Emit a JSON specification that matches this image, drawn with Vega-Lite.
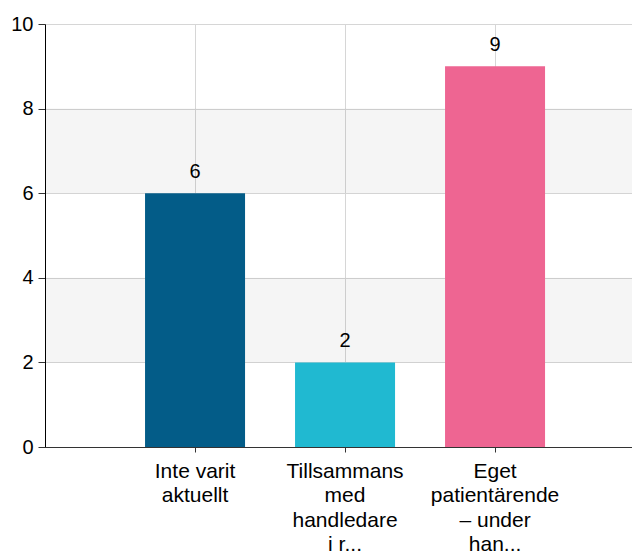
{
  "$schema": "https://vega.github.io/schema/vega-lite/v6.json",
  "autosize": "none",
  "width": 587,
  "height": 423,
  "padding": {"left": 45, "top": 24, "right": 0, "bottom": 107},
  "background": "white",
  "config": {
    "view": {"stroke": null},
    "font": "Liberation Sans"
  },
  "datasets": {
    "bars": [
      {"kategori": "Inte varit aktuellt", "antal": 6},
      {"kategori": "Tillsammans med handledare i r...", "antal": 2},
      {"kategori": "Eget patientärende – under han...", "antal": 9}
    ],
    "bands": [
      {"from": 2, "to": 4},
      {"from": 6, "to": 8}
    ]
  },
  "layer": [
    {
      "data": {"name": "bands"},
      "mark": {"type": "rect", "color": "#000", "opacity": 0.04},
      "encoding": {
        "y": {
          "field": "from",
          "type": "quantitative",
          "scale": {"domain": [0, 10]},
          "axis": {
            "title": null,
            "values": [0, 2, 4, 6, 8, 10],
            "labelFontSize": 20,
            "labelColor": "#000",
            "labelFont": "Liberation Sans",
            "labelPadding": 5,
            "tickSize": 7,
            "tickColor": "#333",
            "domainColor": "#000",
            "gridColor": "#d6d6d6"
          }
        },
        "y2": {"field": "to"}
      }
    },
    {
      "data": {"name": "bars"},
      "mark": {"type": "bar"},
      "encoding": {
        "x": {
          "field": "kategori",
          "type": "nominal",
          "sort": null,
          "scale": {"paddingInner": 0.3333, "paddingOuter": 0.6233, "align": 0.535},
          "axis": {
            "title": null,
            "labelAngle": 0,
            "labelFontSize": 21,
            "labelColor": "#000",
            "labelFont": "Liberation Sans",
            "labelLineHeight": 24.5,
            "labelPadding": 8,
            "labelLimit": 0,
            "labelExpr": "datum.value == 'Inte varit aktuellt' ? ['Inte varit', 'aktuellt'] : datum.value == 'Tillsammans med handledare i r...' ? ['Tillsammans', 'med', 'handledare', 'i r...'] : ['Eget', 'patientärende', '– under', 'han...']",
            "domainColor": "#333",
            "tickColor": "#333",
            "tickSize": 5,
            "grid": true,
            "gridColor": "#d6d6d6",
            "bandPosition": 0.5
          }
        },
        "y": {
          "field": "antal",
          "type": "quantitative",
          "scale": {"domain": [0, 10]},
          "title": null
        },
        "color": {
          "field": "kategori",
          "type": "nominal",
          "sort": null,
          "scale": {"range": ["#035c88", "#20b9d1", "#ee6592"]},
          "legend": null
        }
      }
    },
    {
      "data": {"name": "bars"},
      "mark": {"type": "text", "fontSize": 20, "font": "Liberation Sans", "color": "#000", "baseline": "alphabetic", "dy": -15},
      "encoding": {
        "x": {"field": "kategori", "type": "nominal", "sort": null},
        "y": {"field": "antal", "type": "quantitative"},
        "text": {"field": "antal", "type": "quantitative"}
      }
    }
  ]
}
